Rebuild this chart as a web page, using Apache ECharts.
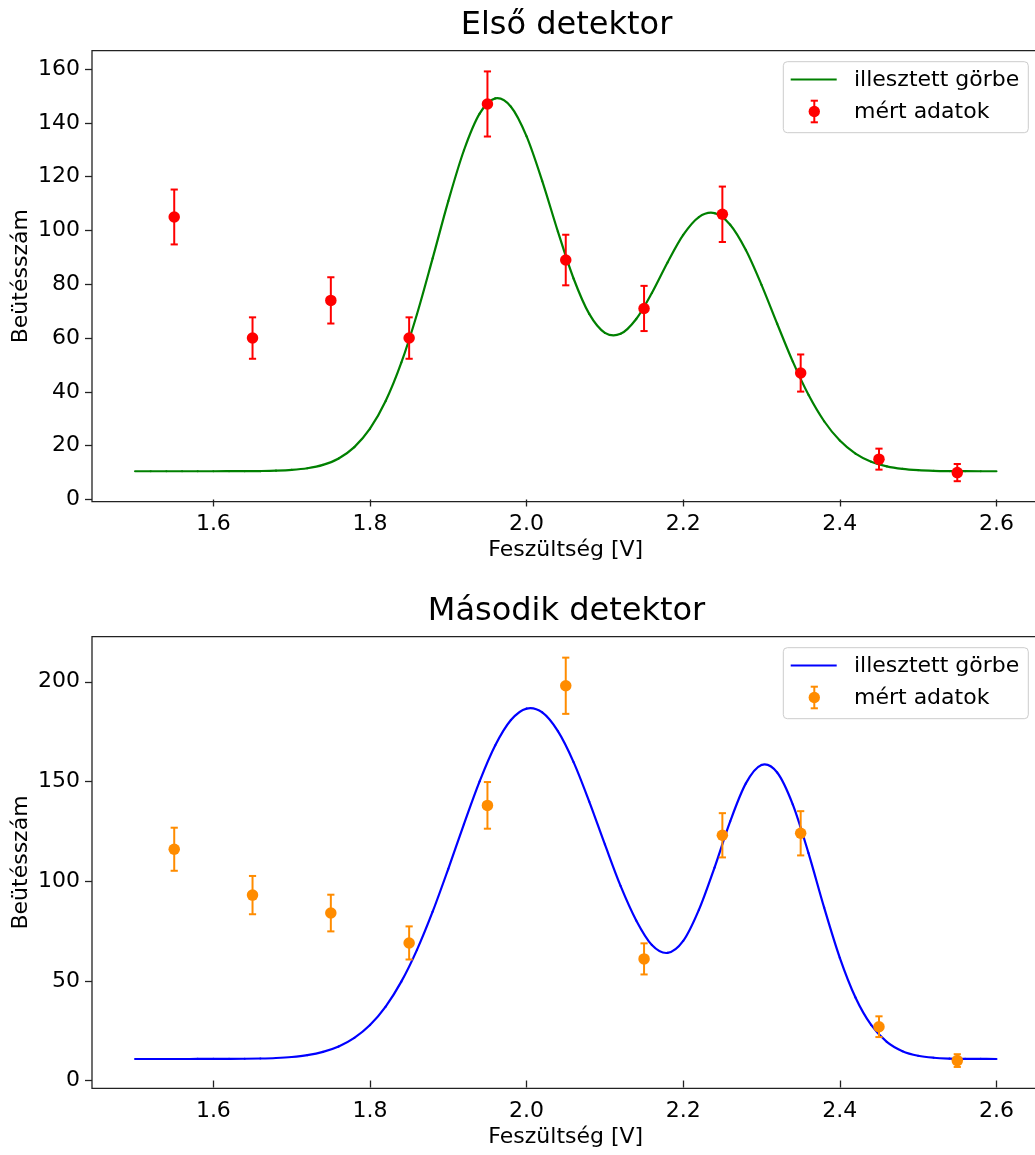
<!DOCTYPE html>
<html>
<head>
<meta charset="utf-8">
<script src="https://cdn.jsdelivr.net/npm/echarts@6/dist/echarts.min.js"></script>
<style>
html,body{margin:0;padding:0;background:#fff;}
#chart{width:1035px;height:1155px;}
</style>
</head>
<body>
<div id="chart"></div>
<script>
// ---- data ----
const xTickValues = [1.6, 1.8, 2.0, 2.2, 2.4, 2.6];
const yTicksTop = [0, 20, 40, 60, 80, 100, 120, 140, 160];
const yTicksBottom = [0, 50, 100, 150, 200];

const measuredX = [1.55, 1.65, 1.75, 1.85, 1.95, 2.05, 2.15, 2.25, 2.35, 2.45, 2.55];
const countsTop = [105, 60, 74, 60, 147, 89, 71, 106, 47, 15, 10];
const errTop = [10.2, 7.7, 8.6, 7.7, 12.1, 9.4, 8.4, 10.3, 6.9, 3.9, 3.2];
const countsBottom = [116, 93, 84, 69, 138, 198, 61, 123, 124, 27, 10];
const errBottom = [10.8, 9.6, 9.2, 8.3, 11.7, 14.1, 7.8, 11.1, 11.1, 5.2, 3.2];

const curveX = [1.50, 1.52, 1.54, 1.56, 1.58, 1.60, 1.62, 1.64, 1.66, 1.68,
                1.70, 1.72, 1.74, 1.76, 1.78, 1.80, 1.82, 1.84, 1.86, 1.88,
                1.90, 1.92, 1.94, 1.96, 1.98, 2.00, 2.02, 2.04, 2.06, 2.08,
                2.10, 2.12, 2.14, 2.16, 2.18, 2.20, 2.22, 2.24, 2.26, 2.28,
                2.30, 2.32, 2.34, 2.36, 2.38, 2.40, 2.42, 2.44, 2.46, 2.48,
                2.50, 2.52, 2.54, 2.56, 2.58, 2.60];
const curveTop = [10.5, 10.5, 10.5, 10.5, 10.5, 10.5, 10.51, 10.53, 10.58, 10.70,
                  10.98, 11.60, 12.86, 15.26, 19.47, 26.30, 36.58, 50.83, 68.86, 89.61,
                  110.89, 129.8, 143.4, 149.06, 145.99, 134.97, 118.36, 99.57, 82.13, 68.97,
                  61.95, 61.56, 67.09, 76.77, 88.09, 98.31, 104.96, 106.43, 102.13, 92.73,
                  79.79, 65.32, 51.22, 38.89, 29.08, 21.91, 17.08, 14.06, 12.31, 11.36,
                  10.89, 10.66, 10.56, 10.52, 10.5, 10.5];
const curveBottom = [10.8, 10.8, 10.8, 10.8, 10.81, 10.82, 10.85, 10.91, 11.04, 11.30,
                     11.80, 12.73, 14.36, 17.07, 21.37, 27.84, 37.09, 49.59, 65.54, 84.67,
                     106.19, 128.6, 150.0, 168.1, 180.8, 186.55, 184.6, 175.2, 159.7, 139.9,
                     118.4, 97.6, 80.3, 68.0, 64.0, 70.0, 85.58, 106.82, 130.0, 149.04,
                     158.26, 154.5, 138.4, 114.06, 86.72, 61.57, 41.67, 27.87, 19.38, 14.72,
                     12.43, 11.42, 11.01, 10.87, 10.82, 10.8];

const titles = ['Első detektor', 'Második detektor'];
const xName = 'Feszültség [V]';
const yName = 'Beütésszám';
const legendLabels = ['illesztett görbe', 'mért adatok'];

// ---- styling / layout ----
const FONT = 'DejaVu Sans';
const FS = 22;
const plotLeft = 92, plotWidth = 947.5;
const panels = [
  {top: 50.7, height: 451, ymin: -0.82, ymax: 166.8, yticks: yTicksTop,
   curve: curveTop, counts: countsTop, err: errTop, lineColor: '#008000', ptColor: '#ff0000'},
  {top: 636.7, height: 451.6, ymin: -3.9, ymax: 222.6, yticks: yTicksBottom,
   curve: curveBottom, counts: countsBottom, err: errBottom, lineColor: '#0000ff', ptColor: '#ff8c00'}
];

const grids = [], xAxes = [], yAxes = [], series = [], graphics = [];
panels.forEach((p, i) => {
  grids.push({left: plotLeft, width: plotWidth, top: p.top, height: p.height,
    show: true, borderColor: '#222', borderWidth: 1.3, backgroundColor: 'transparent',
    outerBoundsMode: 'none', containLabel: false});
  xAxes.push({type: 'value', gridIndex: i, min: 1.445, max: 2.655,
    axisLine: {show: false},
    axisTick: {show: true, length: 7, lineStyle: {color: '#222', width: 1.3}, customValues: xTickValues},
    axisLabel: {color: '#000', fontFamily: FONT, fontSize: FS, margin: 12,
      customValues: xTickValues, formatter: v => Number(v).toFixed(1)},
    splitLine: {show: false},
    name: xName, nameLocation: 'middle', nameGap: 38, nameMoveOverlap: false,
    nameTextStyle: {color: '#000', fontFamily: FONT, fontSize: FS}});
  yAxes.push({type: 'value', gridIndex: i, min: p.ymin, max: p.ymax,
    axisLine: {show: false},
    axisTick: {show: true, length: 7, lineStyle: {color: '#222', width: 1.3}, customValues: p.yticks},
    axisLabel: {color: '#000', fontFamily: FONT, fontSize: FS, margin: 12,
      customValues: p.yticks, formatter: v => String(Math.round(v))},
    splitLine: {show: false},
    name: yName, nameLocation: 'middle', nameGap: 60, nameRotate: 90, nameMoveOverlap: false,
    nameTextStyle: {color: '#000', fontFamily: FONT, fontSize: FS}});

  // fitted curve: Catmull-Rom segments between the listed curve points
  const ys = p.curve, lc = p.lineColor, n = curveX.length;
  series.push({type: 'custom', name: legendLabels[0], xAxisIndex: i, yAxisIndex: i,
    data: curveX.map((x, k) => [x, ys[k]]), encode: {x: 0, y: 1}, z: 2, silent: true,
    renderItem: (params, api) => {
      const k = params.dataIndex;
      if (k >= n - 1) return null;
      const P = j => { const q = Math.max(0, Math.min(n - 1, j)); return api.coord([curveX[q], ys[q]]); };
      const p0 = P(k - 1), p1 = P(k), p2 = P(k + 1), p3 = P(k + 2);
      return {type: 'bezierCurve', shape: {
          x1: p1[0], y1: p1[1],
          cpx1: p1[0] + (p2[0] - p0[0]) / 6, cpy1: p1[1] + (p2[1] - p0[1]) / 6,
          cpx2: p2[0] - (p3[0] - p1[0]) / 6, cpy2: p2[1] - (p3[1] - p1[1]) / 6,
          x2: p2[0], y2: p2[1]},
        style: {stroke: lc, lineWidth: 2.2, fill: 'none', lineCap: 'round'}};
    }});

  const col = p.ptColor;
  series.push({type: 'custom', name: legendLabels[1] + ' hiba', xAxisIndex: i, yAxisIndex: i,
    data: measuredX.map((x, k) => [x, p.counts[k], p.err[k]]),
    encode: {x: 0, y: 1}, z: 3, silent: true,
    renderItem: (params, api) => {
      const x = api.value(0), y = api.value(1), e = api.value(2);
      const t = api.coord([x, y + e]), b = api.coord([x, y - e]);
      const cap = 3.6, st = {stroke: col, lineWidth: 2};
      return {type: 'group', children: [
        {type: 'line', shape: {x1: t[0], y1: t[1], x2: b[0], y2: b[1]}, style: st},
        {type: 'line', shape: {x1: t[0] - cap, y1: t[1], x2: t[0] + cap, y2: t[1]}, style: st},
        {type: 'line', shape: {x1: b[0] - cap, y1: b[1], x2: b[0] + cap, y2: b[1]}, style: st}
      ]};
    }});
  series.push({type: 'scatter', name: legendLabels[1], xAxisIndex: i, yAxisIndex: i,
    data: measuredX.map((x, k) => [x, p.counts[k]]), symbol: 'circle', symbolSize: 11.5,
    itemStyle: {color: col, opacity: 1}, z: 4, silent: true});

  // title
  const titleY = i === 0 ? 25.5 : 611.5;
  graphics.push({type: 'text', x: plotLeft + 474.5, y: titleY, z: 10,
    style: {text: titles[i], fill: '#000', font: '32px "' + FONT + '"', align: 'center', verticalAlign: 'middle'}});

  // legend
  const ly = p.top + 11;
  graphics.push({type: 'rect', z: 10, shape: {x: 783.3, y: ly, width: 245, height: 71, r: 4},
    style: {fill: 'rgba(255,255,255,0.8)', stroke: '#cccccc', lineWidth: 1}});
  graphics.push({type: 'line', z: 11, shape: {x1: 790.7, y1: ly + 17.8, x2: 836.7, y2: ly + 17.8},
    style: {stroke: lc, lineWidth: 2.2}});
  graphics.push({type: 'text', z: 11, x: 854, y: ly + 18.3,
    style: {text: legendLabels[0], fill: '#000', font: FS + 'px "' + FONT + '"', verticalAlign: 'middle'}});
  const cy = ly + 49.8, ex = 814.3, eh = 10.8, cap = 3.6;
  graphics.push({type: 'line', z: 11, shape: {x1: ex, y1: cy - eh, x2: ex, y2: cy + eh}, style: {stroke: col, lineWidth: 2}});
  graphics.push({type: 'line', z: 11, shape: {x1: ex - cap, y1: cy - eh, x2: ex + cap, y2: cy - eh}, style: {stroke: col, lineWidth: 2}});
  graphics.push({type: 'line', z: 11, shape: {x1: ex - cap, y1: cy + eh, x2: ex + cap, y2: cy + eh}, style: {stroke: col, lineWidth: 2}});
  graphics.push({type: 'circle', z: 12, shape: {cx: ex, cy: cy, r: 5.7}, style: {fill: col}});
  graphics.push({type: 'text', z: 11, x: 854, y: cy + 0.5,
    style: {text: legendLabels[1], fill: '#000', font: FS + 'px "' + FONT + '"', verticalAlign: 'middle'}});
});

const chart = echarts.init(document.getElementById('chart'), null, {renderer: 'canvas'});
chart.setOption({
  animation: false,
  backgroundColor: '#fff',
  textStyle: {fontFamily: FONT},
  grid: grids, xAxis: xAxes, yAxis: yAxes, series: series,
  graphic: {elements: graphics}
});
</script>
</body>
</html>
